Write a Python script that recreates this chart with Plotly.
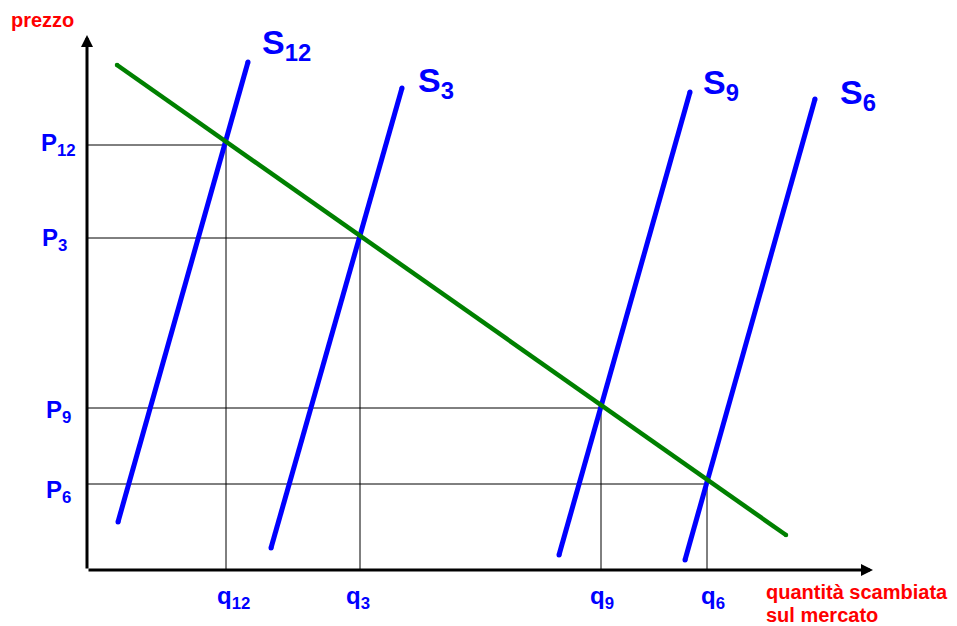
import plotly.graph_objects as go

# demand curve endpoints (quantity, price)
demand_q = [30, 699]
demand_p = [505, 35]

# supply curves: names and endpoints
supply_names = ["12", "3", "9", "6"]
supply_q = [[31, 161], [184, 315], [472, 603], [598, 728]]
supply_p = [[48, 508], [22, 482], [15, 478], [10, 471]]

# equilibria
eq_q = [139, 273, 514, 620]
eq_p = [425, 332, 162, 86]

BLUE = "#0000FF"
GREEN = "#008000"
RED = "#FF0000"
FONT = "Liberation Sans, Arial, sans-serif"

fig = go.Figure()

# guide lines from the axes to each equilibrium
for q, p in zip(eq_q, eq_p):
    fig.add_trace(go.Scatter(x=[0, q, q], y=[p, p, 0], mode="lines",
                             line=dict(color="black", width=1), hoverinfo="skip"))

# supply curves (markers give the rounded ends)
for q, p in zip(supply_q, supply_p):
    fig.add_trace(go.Scatter(x=q, y=p, mode="lines+markers",
                             line=dict(color=BLUE, width=5),
                             marker=dict(color=BLUE, size=5), hoverinfo="skip"))

# demand curve
fig.add_trace(go.Scatter(x=demand_q, y=demand_p, mode="lines+markers",
                         line=dict(color=GREEN, width=4.5),
                         marker=dict(color=GREEN, size=4.5), hoverinfo="skip"))

# axes drawn as arrows
for tip in [(0, 535), (786, 0)]:
    fig.add_annotation(x=tip[0], y=tip[1], ax=0, ay=0, xref="x", yref="y",
                       axref="x", ayref="y", showarrow=True, arrowhead=2,
                       arrowsize=0.8, arrowwidth=3, arrowcolor="black", text="")

# label placement
s_pos = [(199, 526), (349, 488), (634, 486), (771, 476)]
p_pos = [(-29, 426), (-33, 331), (-29, 159), (-29, 79)]
q_x = [146, 271, 515, 626]

labels = []
for name, (sx, sy), (px, py), qx in zip(supply_names, s_pos, p_pos, q_x):
    labels.append(dict(x=sx, y=sy, text=f"<b>S<sub>{name}</sub></b>",
                       font=dict(size=34, color=BLUE, family=FONT)))
    labels.append(dict(x=px, y=py, text=f"<b>P<sub>{name}</sub></b>",
                       font=dict(size=24, color=BLUE, family=FONT)))
    labels.append(dict(x=qx, y=-27, text=f"<b>q<sub>{name}</sub></b>",
                       font=dict(size=24, color=BLUE, family=FONT)))

labels.append(dict(x=-78, y=550, text="<b>prezzo</b>", xanchor="left",
                   font=dict(size=20, color=RED, family=FONT)))
labels.append(dict(x=677, y=-22, text="<b>quantità scambiata</b>", xanchor="left",
                   font=dict(size=20, color=RED, family=FONT)))
labels.append(dict(x=677, y=-45, text="<b>sul mercato</b>", xanchor="left",
                   font=dict(size=20, color=RED, family=FONT)))

for lab in labels:
    fig.add_annotation(xref="x", yref="y", yanchor="middle", showarrow=False, **lab)

fig.update_layout(
    width=949, height=618,
    margin=dict(l=0, r=0, t=0, b=0),
    paper_bgcolor="white", plot_bgcolor="white",
    showlegend=False,
    xaxis=dict(range=[-79, 870], visible=False, fixedrange=True),
    yaxis=dict(range=[-56, 562], visible=False, fixedrange=True),
)

fig.write_html("out.html")
